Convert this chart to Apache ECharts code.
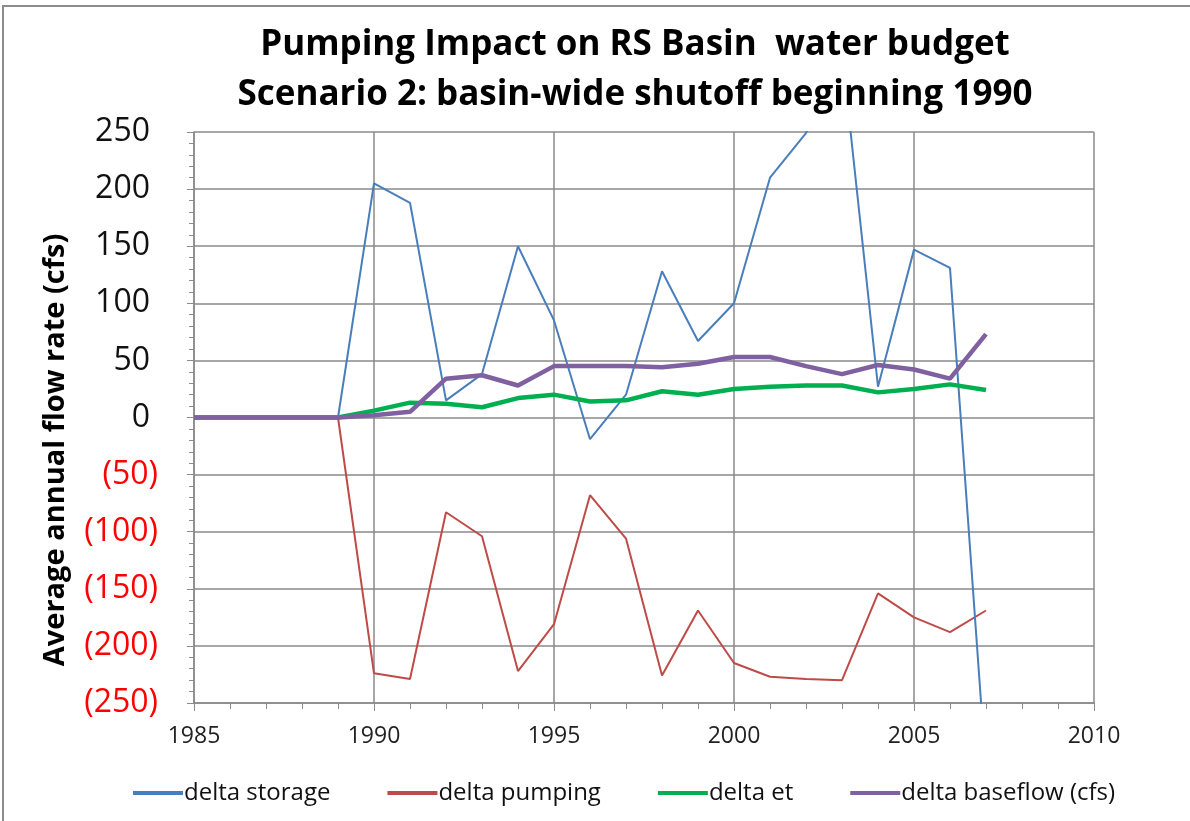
<!DOCTYPE html>
<html>
<head>
<meta charset="utf-8">
<script src="https://cdn.jsdelivr.net/npm/echarts@6/dist/echarts.min.js"></script>
<style>
  html, body { margin: 0; padding: 0; background: #fff; }
  #chart-wrap { width: 1190px; height: 821px; }
</style>
</head>
<body>
<div id="chart-wrap"></div>
<script>
// 年份
const years = [1985, 1986, 1987, 1988, 1989, 1990, 1991, 1992, 1993, 1994, 1995, 1996,
  1997, 1998, 1999, 2000, 2001, 2002, 2003, 2004, 2005, 2006, 2007]

// 各序列数值 (cfs)
const deltaStorage = [0, 0, 0, 0, 0, 205, 188, 15, 38, 150, 85, -19,
  20, 128, 67, 100, 210, 249, 320, 27, 147, 131, -310]
const deltaPumping = [0, 0, 0, 0, 0, -224, -229, -83, -104, -222, -181, -68,
  -106, -226, -169, -215, -227, -229, -230, -154, -175, -188, -169]
const deltaEt = [0, 0, 0, 0, 0, 6, 13, 12, 9, 17, 20, 14,
  15, 23, 20, 25, 27, 28, 28, 22, 25, 29, 24]
const deltaBaseflow = [0, 0, 0, 0, 0, 2, 5, 34, 37, 28, 45, 45,
  45, 44, 47, 53, 53, 45, 38, 46, 42, 34, 73]

const seriesNames = ['delta storage', 'delta pumping', 'delta et', 'delta baseflow (cfs)']
const seriesColors = ['#4A7EBB', '#BE4B48', '#00B050', '#7F60A0']
const seriesWidths = [2, 2, 4.5, 4.5]
const seriesValues = [deltaStorage, deltaPumping, deltaEt, deltaBaseflow]

const FONT = 'Open Sans'
const gridColor = '#8a8a8a'

const chart = echarts.init(document.getElementById('chart-wrap'))

const option = {
  backgroundColor: '#fff',
  animation: false,
  textStyle: { fontFamily: FONT },
  title: {
    text: 'Pumping Impact on RS Basin  water budget\nScenario 2: basin-wide shutoff beginning 1990',
    left: 630,
    top: 15,
    textAlign: 'center',
    textStyle: {
      fontFamily: FONT,
      fontSize: 35,
      fontWeight: 'bold',
      color: '#000',
      lineHeight: 50
    }
  },
  legend: {
    left: 128,
    top: 776,
    itemWidth: 50,
    itemHeight: 4,
    itemGap: 57,
    icon: 'rect',
    textStyle: { fontFamily: FONT, fontSize: 24, color: '#111', padding: [0, 0, 0, -4] },
    data: seriesNames
  },
  grid: {
    left: 194,
    right: 96,
    top: 132,
    bottom: 118
  },
  xAxis: {
    type: 'value',
    min: 1985,
    max: 2010,
    interval: 5,
    axisLine: { onZero: false, lineStyle: { color: gridColor, width: 1.5 } },
    axisTick: { length: 8, lineStyle: { color: gridColor } },
    minorTick: { show: true, splitNumber: 5, length: 6, lineStyle: { color: gridColor } },
    axisLabel: {
      fontFamily: FONT,
      fontSize: 23,
      color: '#222',
      margin: 22,
      formatter: value => String(value)
    },
    splitLine: { show: true, lineStyle: { color: gridColor, width: 1.5 } }
  },
  yAxis: {
    type: 'value',
    min: -250,
    max: 250,
    interval: 50,
    axisLine: { show: true, lineStyle: { color: gridColor, width: 1.5 } },
    axisTick: { length: 7, lineStyle: { color: gridColor } },
    minorTick: { show: true, splitNumber: 5, length: 5, lineStyle: { color: gridColor } },
    axisLabel: {
      fontFamily: FONT,
      fontSize: 32,
      margin: 36,
      formatter(value) {
        if (value < 0) return `{neg|(${Math.abs(value)})}`
        return `{pos|${value}}{pad| }`
      },
      rich: {
        pos: { fontFamily: FONT, fontSize: 32, color: '#111' },
        neg: { fontFamily: FONT, fontSize: 32, color: '#ff0000' },
        pad: { fontFamily: FONT, fontSize: 32, width: 8 }
      }
    },
    splitLine: { show: true, lineStyle: { color: gridColor, width: 1.5 } }
  },
  graphic: [
    {
      type: 'rect',
      shape: { x: 3, y: 6, width: 1200, height: 900 },
      style: { fill: 'none', stroke: '#8c8c8c', lineWidth: 2 },
      silent: true
    },
    {
      // 纵轴标题
      type: 'text',
      x: 56,
      y: 450,
      rotation: Math.PI / 2,
      style: {
        text: 'Average annual flow rate (cfs)',
        fontFamily: FONT,
        fontSize: 29,
        fontWeight: 'bold',
        fill: '#000',
        align: 'center',
        verticalAlign: 'middle'
      },
      silent: true
    }
  ],
  series: seriesNames.map((name, i) => ({
    name,
    type: 'line',
    showSymbol: false,
    symbol: 'none',
    clip: true,
    color: seriesColors[i],
    lineStyle: { color: seriesColors[i], width: seriesWidths[i] },
    z: i === 0 ? 5 : 3 + i,
    data: years.map((y, j) => [y, seriesValues[i][j]])
  }))
}

chart.setOption(option)
</script>
</body>
</html>
